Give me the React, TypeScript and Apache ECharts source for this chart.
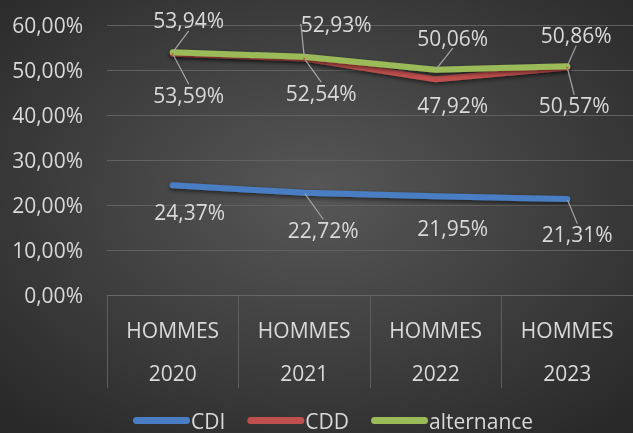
import React, { useEffect, useRef } from "react";
import * as echarts from "echarts";

const categories = ["HOMMES\n2020", "HOMMES\n2021", "HOMMES\n2022", "HOMMES\n2023"];
const cdi = [24.37, 22.72, 21.95, 21.31];
const cdd = [53.59, 52.54, 47.92, 50.57];
const alternance = [53.94, 52.93, 50.06, 50.86];
const seriesNames = ["CDI", "CDD", "alternance"];

// label offsets (dx, dy) from each point, and whether a leader line shows
const cdiOffsets = [[17, 27, false], [19, 37, true], [17, 32, false], [10, 35, true]];
const cddOffsets = [[16, 41, true], [17, 34, true], [17, 26, false], [7, 38, true]];
const altOffsets = [[16, -32, true], [32, -33, true], [17, -32, true], [9, -31, true]];

const fmt = (v: number) => v.toFixed(2).replace(".", ",") + "%";
const FONT = "'Open Sans', sans-serif";
const TEXT = "#d9d9d9";
const FS = 21;

function mkSeries(name: string, values: number[], color: string, offs: any[]) {
  return {
    name,
    type: "line",
    data: values.map((v, i) => ({
      value: v,
      labelLine: { show: offs[i][2] },
    })),
    symbol: "circle",
    symbolSize: 2,
    showSymbol: true,
    itemStyle: { color },
    lineStyle: {
      color,
      width: 6,
      cap: "round",
      join: "round",
      shadowColor: "rgba(0,0,0,0.55)",
      shadowBlur: 4,
      shadowOffsetY: 2,
    },
    label: {
      show: true,
      position: "inside",
      align: "center",
      verticalAlign: "middle",
      formatter: (p: any) => fmt(p.value),
      color: TEXT,
      fontFamily: FONT,
      fontSize: FS,
    },
    labelLine: {
      show: true,
      lineStyle: { color: "#a6a6a6", width: 1.2 },
    },
    labelLayout: (p: any) => {
      const o = offs[p.dataIndex];
      return { dx: o[0], dy: o[1] };
    },
    emphasis: { disabled: true },
  };
}

export default function App() {
  const ref = useRef<HTMLDivElement>(null);
  useEffect(() => {
    if (!ref.current) return;
    const chart = echarts.init(ref.current, null, { renderer: "svg" });
    chart.setOption({
      animation: false,
      backgroundColor: {
        type: "radial",
        x: 0.5,
        y: 0.45,
        r: 0.75,
        colorStops: [
          { offset: 0, color: "#575757" },
          { offset: 1, color: "#262626" },
        ],
      },
      textStyle: { fontFamily: FONT },
      grid: { left: 107, right: -10, top: 25, bottom: 138, containLabel: false },
      legend: {
        data: seriesNames,
        left: 133,
        top: 410,
        padding: 0,
        itemWidth: 57,
        itemHeight: 7,
        itemGap: 22,
        icon: "path://M3.5,0 H53.5 A3.5,3.5 0 0 1 53.5,7 H3.5 A3.5,3.5 0 0 1 3.5,0 Z",
        textStyle: { color: TEXT, fontFamily: FONT, fontSize: FS, padding: [0, 0, 0, -4] },
      },
      xAxis: {
        type: "category",
        data: categories,
        boundaryGap: true,
        axisLine: { show: true, lineStyle: { color: "#666", width: 1 } },
        axisTick: { show: true, length: 93, lineStyle: { color: "#5e5e5e", width: 1 } },
        axisLabel: {
          color: TEXT,
          fontFamily: FONT,
          fontSize: FS,
          lineHeight: 43,
          margin: 13,
          interval: 0,
        },
      },
      yAxis: {
        type: "value",
        min: 0,
        max: 60,
        interval: 10,
        axisLine: { show: false },
        axisTick: { show: false },
        splitLine: { lineStyle: { color: "#616161", width: 1 } },
        axisLabel: {
          color: TEXT,
          fontFamily: FONT,
          fontSize: FS,
          margin: 24,
          formatter: (v: number) => fmt(v),
        },
      },
      series: [
        mkSeries("CDI", cdi, "#4a7dc4", cdiOffsets),
        mkSeries("CDD", cdd, "#c0504d", cddOffsets),
        mkSeries("alternance", alternance, "#9bbb59", altOffsets),
      ],
    });
    return () => chart.dispose();
  }, []);
  return (
    <div
      ref={ref}
      style={{ position: "fixed", left: 0, top: 0, width: 633, height: 433 }}
    />
  );
}
